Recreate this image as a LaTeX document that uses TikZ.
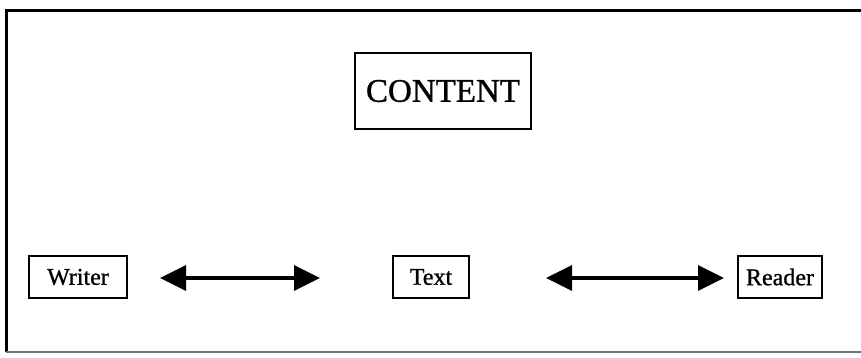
\documentclass[tikz,border=0pt]{standalone}
\usepackage{fontspec}
\setmainfont{Liberation Serif}
\newfontfamily\scanfont[FakeBold=1]{Liberation Serif}
\usetikzlibrary{arrows.meta}
\begin{document}
\begin{tikzpicture}[x=1pt,y=-1pt,
  box/.style={draw=black, line width=1.8pt, inner sep=0pt, font=\scanfont\fontsize{24}{28}\selectfont},
  bigbox/.style={draw=black, line width=2.4pt, inner sep=0pt, font=\scanfont\fontsize{33}{36}\selectfont},
  link/.style={line width=3.2pt, {Triangle[length=26pt,width=25pt]}-{Triangle[length=26pt,width=25pt]}}]
\useasboundingbox (0,0) rectangle (861,357);
\draw[line width=3pt] (6,352) -- (6,10) -- (861,10);
\draw[line width=1.2pt, black!55] (6,352) -- (861,352);
\node[bigbox, minimum width=176pt, minimum height=76pt] (content) at (443,91) {CONTENT};
\node[box, minimum width=98pt, minimum height=42pt] (writer) at (78,277) {Writer};
\node[box, minimum width=76pt, minimum height=42pt] (text) at (431,277) {Text};
\node[box, minimum width=84pt, minimum height=42pt] (reader) at (780,277) {Reader};
\coordinate (a1) at (160,278);
\coordinate (a2) at (320,278);
\coordinate (b1) at (546,278);
\coordinate (b2) at (724,278);
\draw[link] (a1) -- (a2);
\draw[link] (b1) -- (b2);
\end{tikzpicture}
\end{document}
